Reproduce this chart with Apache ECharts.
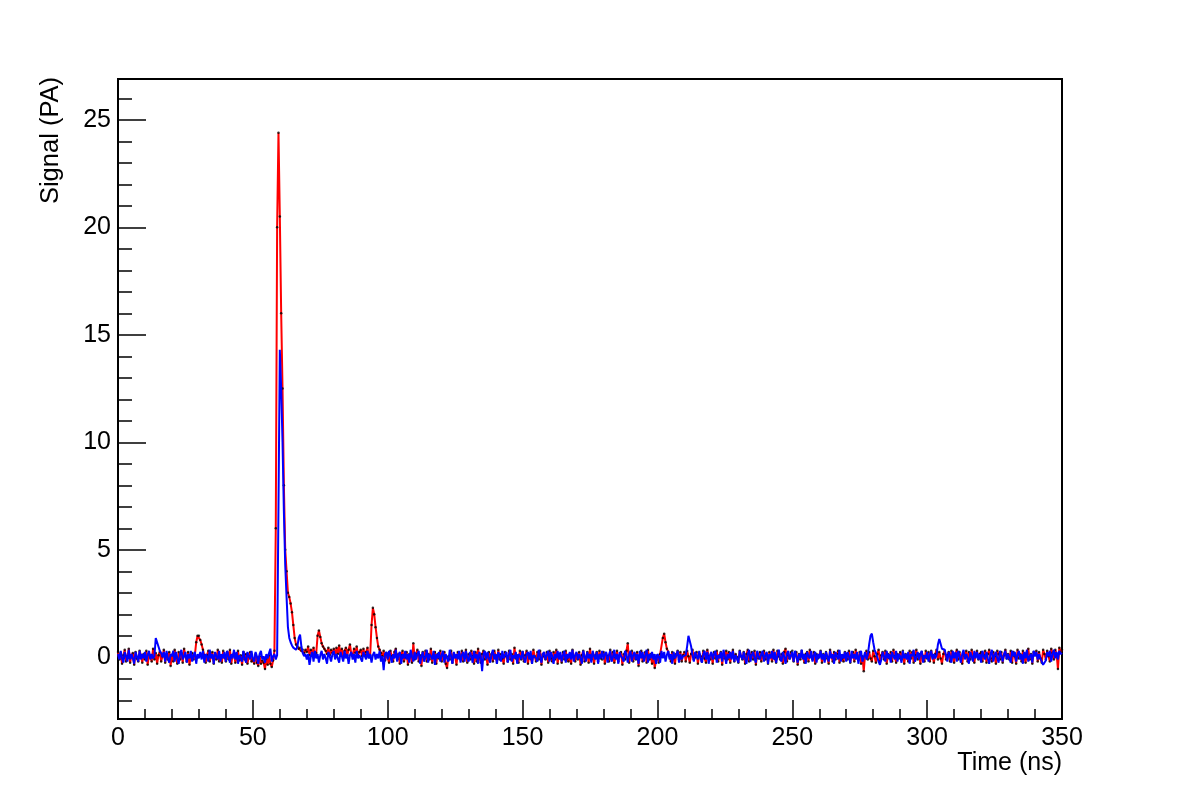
<!DOCTYPE html>
<html>
<head>
<meta charset="utf-8">
<script src="https://cdn.jsdelivr.net/npm/echarts@6/dist/echarts.min.js"></script>
<style>html,body{margin:0;padding:0;background:#fff}#c{width:1182px;height:800px}</style>
</head>
<body>
<div id="c"></div>
<script>
// Sampling of the waveforms (ns)
const timeStart = 0;
const timeStep = 0.5;

// Measured signal (red line with black sample markers), one row = 10 ns
const signalRed = [
0.25,-0.10,0.20,-0.30,0.10,0.35,-0.20,0.05,0.40,-0.25,0.10,0.20,-0.35,0.25,-0.05,-0.20,0.30,0.10,-0.25,0.15,
-0.10,0.30,-0.35,0.15,0.00,-0.20,0.40,-0.10,0.20,-0.30,0.10,0.25,-0.20,0.05,0.35,-0.25,0.15,-0.10,0.25,-0.40,
0.10,-0.20,0.35,0.00,-0.30,0.25,-0.10,0.20,-0.25,0.40,0.05,-0.20,0.25,-0.35,0.10,0.20,-0.10,0.10,0.70,1.00,
1.00,0.80,0.60,0.35,0.10,-0.25,0.10,0.30,-0.20,0.05,0.25,-0.30,0.15,-0.10,0.35,-0.20,0.10,-0.25,0.30,0.00,
-0.20,0.25,-0.10,0.35,-0.30,0.10,0.20,-0.25,0.00,0.30,-0.15,0.10,-0.35,0.25,-0.10,0.15,-0.30,0.05,0.25,-0.20,
-0.10,-0.30,0.15,-0.25,-0.40,0.05,-0.30,-0.15,-0.25,-0.55,-0.05,-0.35,0.10,-0.30,-0.45,-0.15,0.30,6.00,20.00,24.40,
20.50,16.00,12.50,8.00,5.00,4.00,3.00,2.80,2.50,2.10,1.50,0.90,0.60,0.50,0.40,0.45,0.30,0.35,0.20,0.35,
0.25,0.50,0.10,0.35,0.15,0.45,0.05,0.20,1.00,1.25,0.95,0.65,0.50,0.40,0.30,0.15,0.45,0.10,0.35,0.20,
0.40,0.05,0.45,0.15,0.55,0.10,0.40,-0.05,0.30,0.45,0.10,0.35,0.60,0.15,0.05,0.40,0.20,0.50,0.10,0.25,
0.35,0.05,0.40,0.10,0.25,0.45,0.00,0.10,1.50,2.30,2.00,1.40,0.90,0.50,0.35,0.20,0.05,0.30,-0.15,0.20,
0.15,-0.25,0.30,0.05,-0.20,0.25,0.40,-0.10,0.15,-0.30,0.10,0.30,-0.20,0.00,0.25,-0.35,0.15,0.05,-0.25,0.65,
-0.10,0.15,0.35,-0.20,0.10,-0.40,0.25,0.00,0.30,-0.20,0.15,-0.10,0.40,-0.25,0.10,0.25,-0.30,0.15,-0.05,0.30,
-0.20,0.10,0.25,-0.30,-0.50,0.05,-0.10,0.30,-0.25,0.15,0.05,-0.35,0.25,0.15,-0.10,0.30,-0.20,0.00,0.35,-0.25,
0.15,-0.10,0.30,0.05,-0.30,0.25,-0.20,0.40,0.00,-0.25,0.15,0.30,-0.10,0.10,-0.35,0.25,-0.05,0.15,-0.20,0.30,
0.10,-0.25,0.35,-0.10,0.15,-0.05,-0.30,0.25,0.05,-0.20,0.30,-0.10,0.15,-0.30,0.45,-0.05,0.10,-0.25,0.30,-0.10,
0.25,-0.20,0.10,0.30,-0.30,0.15,-0.05,-0.25,0.35,0.05,-0.20,0.25,-0.10,0.30,-0.35,0.15,0.05,-0.10,0.25,-0.25,
0.30,-0.05,-0.20,0.25,-0.10,0.35,-0.30,0.15,0.05,-0.25,0.25,-0.10,0.30,-0.05,-0.20,0.15,-0.30,0.35,0.05,-0.20,
0.15,-0.10,0.25,-0.35,0.10,0.30,-0.20,0.00,0.25,-0.25,0.40,-0.10,0.15,-0.30,0.10,0.25,-0.20,0.30,-0.05,-0.10,
0.25,-0.30,0.15,0.05,-0.20,0.35,-0.10,0.25,-0.25,0.00,0.30,-0.20,0.10,0.25,-0.35,0.15,-0.10,0.30,0.65,-0.25,
0.10,0.30,-0.20,0.15,-0.10,0.25,-0.40,0.10,0.30,-0.20,0.00,0.25,-0.25,0.35,-0.10,0.15,-0.30,0.10,-0.50,-0.15,
0.10,-0.25,0.15,0.10,0.90,1.10,0.70,0.40,0.25,0.05,-0.20,0.25,-0.05,-0.30,0.15,0.30,-0.10,0.25,-0.20,0.10,
0.25,-0.20,0.30,0.05,-0.25,0.15,0.35,-0.10,0.00,0.25,-0.30,0.15,0.05,-0.20,0.30,-0.05,-0.25,0.35,0.05,-0.10,
0.15,-0.30,0.25,-0.05,0.30,-0.20,0.10,0.25,-0.35,0.15,-0.05,0.30,-0.10,0.25,-0.25,0.10,0.35,-0.20,0.15,0.00,
-0.25,0.30,0.05,-0.10,0.25,-0.30,0.15,0.35,-0.20,0.10,0.25,-0.10,0.30,-0.35,0.15,-0.05,0.25,-0.20,0.10,0.30,
-0.10,0.15,-0.30,0.25,0.05,-0.20,0.35,-0.05,-0.25,0.30,0.05,-0.10,0.15,-0.30,0.25,0.40,-0.20,0.10,-0.05,0.25,
0.30,-0.20,0.10,0.25,-0.35,0.15,-0.10,0.30,0.00,-0.25,0.15,0.25,-0.20,0.35,0.05,-0.10,0.25,-0.30,0.15,-0.05,
0.10,0.30,-0.25,0.15,-0.10,0.25,-0.05,-0.30,0.35,0.05,-0.20,0.25,-0.10,0.15,0.30,-0.25,0.10,-0.05,-0.20,0.25,
0.15,-0.10,0.30,-0.25,0.10,0.25,-0.20,0.35,0.00,-0.10,0.25,-0.30,0.05,-0.65,0.15,0.30,-0.10,0.25,-0.05,-0.20,
0.30,0.05,-0.25,0.15,0.35,-0.20,0.10,0.25,-0.10,0.30,-0.30,0.15,-0.05,0.25,-0.20,0.35,0.05,-0.25,0.15,-0.05,
0.25,-0.10,0.30,-0.30,0.15,0.05,-0.20,0.30,-0.05,0.25,-0.25,0.10,0.35,-0.10,0.15,-0.30,0.25,0.05,-0.20,0.30,
-0.05,0.25,-0.20,0.30,0.05,-0.25,0.15,0.35,-0.10,0.25,-0.05,-0.30,0.15,0.30,-0.10,0.10,0.25,-0.20,0.30,0.05,
-0.25,0.15,0.35,-0.10,0.25,-0.05,-0.30,0.15,0.05,0.30,-0.20,0.25,-0.10,0.35,-0.05,-0.25,0.15,0.30,-0.10,0.15,
0.25,-0.20,0.10,0.30,-0.25,0.15,0.35,-0.05,-0.20,0.25,0.05,-0.30,0.30,0.15,-0.10,0.25,-0.25,0.10,0.35,-0.05,
0.15,-0.10,0.30,-0.25,0.25,0.05,-0.30,0.35,-0.05,0.15,-0.20,0.30,0.05,-0.25,0.25,0.40,-0.10,0.15,-0.30,0.25,
0.10,0.30,-0.20,0.25,-0.05,-0.25,0.35,0.15,-0.10,0.30,0.05,-0.20,0.40,0.20,-0.10,0.35,0.15,-0.55,0.45,0.25,
0.35
];

// Second waveform (blue line), one row = 10 ns
const signalBlue = [
0.15,-0.10,0.30,-0.05,-0.25,0.25,0.05,-0.20,0.35,-0.10,0.15,-0.05,-0.30,0.25,0.05,-0.20,0.30,-0.10,0.15,-0.05,
0.25,-0.20,0.10,0.30,-0.10,0.15,-0.05,0.05,0.90,0.95,0.50,0.30,0.20,0.00,0.25,-0.20,0.30,-0.05,-0.25,0.15,
0.05,0.30,-0.20,0.25,-0.05,-0.30,0.15,0.35,-0.10,0.05,0.25,-0.25,0.15,-0.05,0.30,-0.20,0.10,0.25,-0.30,0.15,
-0.05,0.25,-0.10,0.30,-0.25,0.15,0.05,-0.20,0.35,-0.05,0.15,-0.30,0.25,0.05,-0.10,0.30,-0.20,0.15,-0.05,0.25,
-0.20,0.30,0.05,-0.25,0.15,-0.05,0.35,-0.10,0.25,-0.30,0.10,0.15,-0.20,0.30,-0.05,-0.25,0.25,0.05,-0.10,0.30,
-0.05,-0.20,0.25,0.05,-0.30,0.15,0.30,-0.10,0.05,-0.25,0.15,-0.05,0.20,0.40,-0.20,0.05,0.15,-0.10,0.10,7.00,
14.30,12.50,10.00,6.80,4.30,2.80,1.40,0.90,0.70,0.55,0.45,0.40,0.35,0.50,0.90,1.05,0.50,0.20,0.05,0.15,
-0.10,0.15,-0.35,0.05,0.25,-0.20,0.30,-0.05,0.15,-0.25,0.10,0.30,-0.10,0.15,-0.05,-0.30,0.25,0.05,-0.20,0.15,
0.30,-0.10,0.15,-0.05,-0.25,0.25,0.05,-0.20,0.30,-0.05,0.15,-0.30,0.10,0.25,-0.10,0.15,-0.25,0.30,-0.05,0.10,
0.15,-0.20,0.25,0.05,-0.10,0.30,-0.05,0.15,-0.25,0.10,0.25,-0.10,0.15,-0.05,0.30,-0.20,0.05,-0.60,0.15,0.25,
-0.10,0.30,0.05,-0.25,0.15,-0.05,0.35,-0.20,0.10,0.25,-0.30,0.15,-0.05,0.30,-0.10,0.15,-0.25,0.35,0.05,-0.20,
0.25,-0.10,0.15,0.30,-0.30,0.05,0.25,-0.20,0.00,0.35,-0.25,0.15,0.05,-0.10,0.30,-0.35,0.15,-0.05,0.25,-0.20,
0.10,0.30,-0.25,0.15,-0.05,-0.20,0.35,0.05,-0.30,0.25,-0.05,0.15,-0.10,0.30,-0.25,0.10,0.25,-0.20,0.30,-0.05,
-0.20,0.25,0.05,-0.25,0.30,-0.05,0.15,-0.30,0.25,0.05,-0.65,0.15,0.30,-0.10,0.25,-0.05,-0.25,0.15,0.35,-0.10,
0.15,-0.30,0.25,0.05,-0.20,0.30,-0.05,-0.10,0.25,-0.25,0.15,0.35,-0.20,0.10,-0.05,0.25,-0.30,0.15,0.05,-0.10,
0.30,-0.05,-0.25,0.15,0.25,-0.10,0.30,-0.30,0.10,0.15,-0.05,-0.20,0.35,0.05,-0.25,0.15,0.25,-0.10,-0.05,0.30,
-0.20,0.25,0.05,-0.30,0.15,-0.05,0.30,-0.10,0.25,-0.20,0.10,0.30,-0.25,0.15,-0.05,0.25,-0.10,0.35,-0.20,0.10,
0.25,-0.10,0.15,-0.05,-0.30,0.30,0.05,-0.20,0.25,-0.05,0.15,-0.25,0.30,0.05,-0.10,0.25,-0.30,0.15,-0.05,0.30,
-0.10,0.15,0.25,-0.25,0.10,0.30,-0.20,0.00,0.35,-0.10,0.15,-0.30,0.25,0.05,-0.05,-0.20,0.30,0.15,-0.25,0.10,
0.30,-0.20,0.10,0.25,-0.10,0.15,-0.30,0.30,-0.05,0.25,-0.20,0.10,0.35,-0.25,0.15,-0.05,0.25,-0.10,0.15,-0.30,
0.15,0.05,-0.25,0.30,-0.05,0.25,-0.20,0.10,0.30,-0.10,0.15,-0.30,0.25,-0.05,0.10,0.30,-0.25,0.15,-0.10,0.05,
0.00,0.10,0.50,1.00,0.95,0.50,0.10,-0.20,0.25,0.05,-0.10,0.30,-0.05,-0.25,0.15,0.30,-0.10,0.25,-0.30,0.10,
0.25,-0.10,0.15,0.30,-0.25,0.10,-0.05,0.25,-0.20,0.35,0.05,-0.30,0.15,-0.05,0.25,-0.10,0.30,-0.20,0.10,0.15,
-0.25,0.30,0.05,-0.10,0.25,-0.05,-0.30,0.15,0.35,-0.20,0.10,0.25,-0.05,-0.25,0.30,0.05,-0.10,0.15,0.30,-0.20,
0.10,0.25,-0.30,0.15,-0.05,0.30,-0.10,0.25,-0.25,0.05,0.35,-0.05,-0.20,0.25,0.05,-0.30,0.15,0.30,-0.10,-0.05,
0.25,-0.20,0.30,0.05,-0.25,0.15,-0.05,0.35,-0.10,0.15,-0.30,0.25,0.05,-0.05,0.30,-0.20,0.10,0.25,-0.25,0.15,
-0.05,0.30,-0.10,0.15,-0.25,0.25,0.05,-0.20,0.30,-0.05,0.15,-0.30,0.25,0.05,-0.10,0.35,-0.20,0.15,-0.05,0.25,
-0.20,0.25,0.05,-0.25,0.30,-0.05,0.15,-0.10,0.25,-0.30,0.10,0.30,-0.20,0.00,0.25,-0.10,0.10,0.60,1.00,1.10,
0.70,0.35,0.20,0.00,-0.20,-0.35,-0.10,0.25,0.05,-0.20,0.30,-0.05,0.15,-0.25,0.25,0.05,-0.10,0.30,-0.20,0.15,
0.05,-0.25,0.30,-0.05,0.15,-0.10,0.25,-0.30,0.15,0.05,0.35,-0.20,0.00,0.25,-0.10,0.15,0.30,-0.25,0.10,-0.05,
0.25,-0.20,0.10,0.30,-0.10,0.15,-0.05,0.10,0.60,0.85,0.80,0.40,0.35,0.35,0.10,-0.20,0.25,0.05,-0.25,0.30,
-0.05,0.25,-0.20,0.30,0.05,-0.25,0.15,0.35,-0.10,0.15,-0.05,-0.30,0.25,0.05,-0.20,0.30,-0.05,0.25,-0.10,0.15,
-0.25,0.30,0.05,-0.10,0.25,-0.05,-0.30,0.15,0.35,-0.20,0.10,0.25,-0.05,-0.25,0.30,0.05,-0.20,0.15,0.30,-0.10,
0.15,-0.05,-0.25,0.30,0.05,0.25,-0.20,0.10,0.30,-0.10,0.15,-0.30,0.25,-0.05,0.35,-0.20,0.05,0.15,-0.25,0.30,
0.05,0.25,-0.10,0.15,-0.05,-0.20,-0.35,-0.40,-0.15,0.25,0.05,0.30,-0.20,0.15,0.35,-0.05,0.25,-0.10,0.30,0.15,
0.20
];

// Axis ticks
const yMajorTicks = [0, 5, 10, 15, 20, 25];
const yMinorTicks = [-2, -1, 1, 2, 3, 4, 6, 7, 8, 9, 11, 12, 13, 14, 16, 17, 18, 19, 21, 22, 23, 24, 26];
const xAxisTitle = 'Time (ns)';
const yAxisTitle = 'Signal (PA)';

const toPairs = arr => arr.map((v, i) => [timeStart + i * timeStep, v]);
const redData = toPairs(signalRed);
const blueData = toPairs(signalBlue);

const FONT = "'Liberation Sans', Arial, Helvetica, sans-serif";
const yMin = -2.87, yMax = 26.9;

const chart = echarts.init(document.getElementById('c'));
chart.setOption({
  animation: false,
  backgroundColor: '#ffffff',
  grid: {
    left: 118, right: 120, top: 79, bottom: 81,
    show: true, borderColor: '#000', borderWidth: 2,
    containLabel: false, outerBoundsMode: 'none'
  },
  xAxis: {
    type: 'value', min: 0, max: 350, interval: 50,
    name: xAxisTitle, nameLocation: 'end', nameGap: 0, nameMoveOverlap: false,
    nameTextStyle: { fontFamily: FONT, fontSize: 25, color: '#000', align: 'right', verticalAlign: 'top', padding: [32, 0, 0, 0] },
    axisLine: { show: true, onZero: false, lineStyle: { color: '#000', width: 2 } },
    axisTick: { show: true, inside: true, length: 19, lineStyle: { color: '#000', width: 1.5 } },
    minorTick: { show: true, splitNumber: 5, length: 10, lineStyle: { color: '#000', width: 1.5 } },
    axisLabel: { fontFamily: FONT, fontSize: 25, color: '#000', margin: 7 },
    splitLine: { show: false }
  },
  yAxis: [
    {
      type: 'value', min: yMin, max: yMax, position: 'left',
      name: yAxisTitle, nameLocation: 'end', nameGap: 2, nameRotate: 90, nameMoveOverlap: false,
      nameTextStyle: { fontFamily: FONT, fontSize: 25.5, color: '#000', align: 'right', verticalAlign: 'bottom', padding: [0, 0, 54, 0] },
      axisLine: { show: true, onZero: false, lineStyle: { color: '#000', width: 2 } },
      axisTick: { show: true, inside: true, length: 28, customValues: yMajorTicks, lineStyle: { color: '#000', width: 1.5 } },
      axisLabel: { customValues: yMajorTicks, fontFamily: FONT, fontSize: 25, color: '#000', margin: 7 },
      splitLine: { show: false }
    },
    {
      type: 'value', min: yMin, max: yMax, position: 'left', offset: 0,
      axisLine: { show: false, onZero: false },
      axisTick: { show: true, inside: true, length: 14, customValues: yMinorTicks, lineStyle: { color: '#000', width: 1.5 } },
      axisLabel: { show: false, customValues: yMinorTicks },
      splitLine: { show: false }
    }
  ],
  series: [
    {
      name: 'signal', type: 'line', data: redData, showSymbol: false, symbol: 'none',
      lineStyle: { color: '#ff0000', width: 2 }, z: 2
    },
    {
      name: 'samples', type: 'scatter', data: redData, symbol: 'circle', symbolSize: 2.5,
      itemStyle: { color: '#000' }, z: 3
    },
    {
      name: 'reference', type: 'line', data: blueData, showSymbol: false, symbol: 'none',
      lineStyle: { color: '#0000ff', width: 2 }, z: 4
    }
  ]
});
</script>
</body>
</html>
